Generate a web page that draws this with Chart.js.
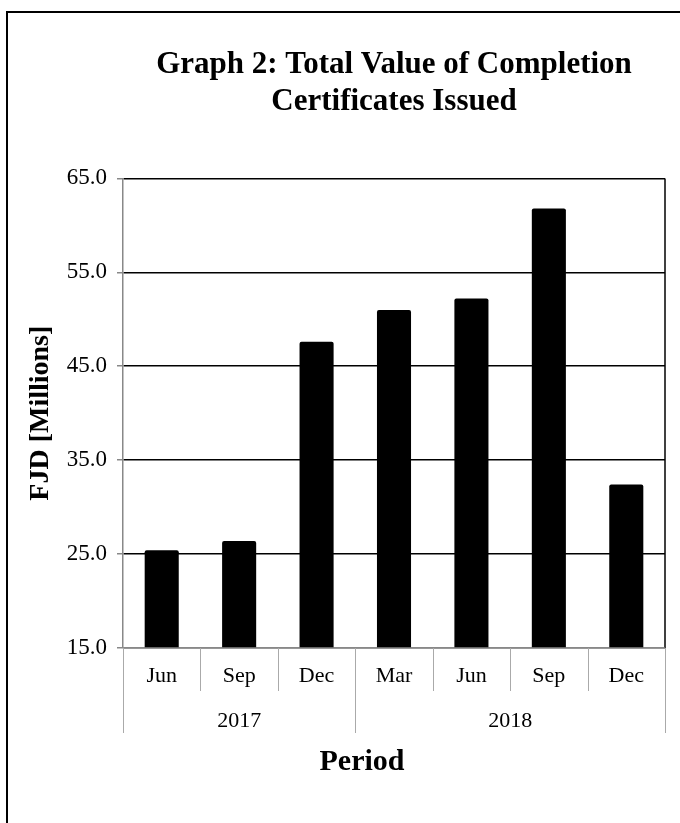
<!DOCTYPE html>
<html>
<head>
<meta charset="utf-8">
<title>Graph 2: Total Value of Completion Certificates Issued</title>
<script src="https://cdn.jsdelivr.net/npm/chart.js@4.4.0/dist/chart.umd.min.js"></script>
<style>
  html, body { margin: 0; padding: 0; background: #fff; }
  canvas { display: block; }
</style>
</head>
<body>
<canvas id="chart" width="680" height="823"></canvas>
<script>
const months = ["Jun", "Sep", "Dec", "Mar", "Jun", "Sep", "Dec"];
const years = ["2017", "2017", "2017", "2018", "2018", "2018", "2018"];
const values = [25.4, 26.4, 47.6, 51.0, 52.2, 61.8, 32.4];
const yMin = 15;
const yMax = 65;
const yStep = 10;

const serif = "'Liberation Serif', 'Times New Roman', serif";

// frame, right border and the two-level category axis
const periodAxis = {
  id: "periodAxis",
  beforeDraw: (chart) => {
    const ctx = chart.ctx;
    ctx.save();
    ctx.strokeStyle = "#000";
    ctx.lineWidth = 2;
    ctx.beginPath();
    ctx.moveTo(7, 830);
    ctx.lineTo(7, 12);
    ctx.lineTo(690, 12);
    ctx.stroke();
    ctx.restore();
  },
  afterDraw: (chart) => {
    const ctx = chart.ctx;
    const area = chart.chartArea;
    const x = chart.scales.x;
    const half = (x.getPixelForValue(1) - x.getPixelForValue(0)) / 2;
    ctx.save();

    ctx.strokeStyle = "#000";
    ctx.lineWidth = 1.5;
    ctx.beginPath();
    ctx.moveTo(area.right, area.top);
    ctx.lineTo(area.right, area.bottom);
    ctx.stroke();

    ctx.strokeStyle = "#888";
    ctx.lineWidth = 1.5;
    ctx.beginPath();
    ctx.moveTo(area.left, area.bottom);
    ctx.lineTo(area.right, area.bottom);
    ctx.stroke();

    ctx.lineWidth = 1;
    ctx.strokeStyle = "#aaa";
    for (let i = 0; i <= months.length; i += 1) {
      const px = Math.round(x.getPixelForValue(i) - half) + 0.5;
      const yearEdge = i === 0 || i === months.length || years[i] !== years[i - 1];
      ctx.beginPath();
      ctx.moveTo(px, area.bottom);
      ctx.lineTo(px, area.bottom + (yearEdge ? 85 : 43));
      ctx.stroke();
    }

    ctx.fillStyle = "#000";
    ctx.textAlign = "center";
    ctx.textBaseline = "middle";
    ctx.font = `22px ${serif}`;
    months.forEach((m, i) => {
      ctx.fillText(m, x.getPixelForValue(i), area.bottom + 28);
    });

    let start = 0;
    for (let i = 1; i <= years.length; i += 1) {
      if (i === years.length || years[i] !== years[start]) {
        const cx = (x.getPixelForValue(start) + x.getPixelForValue(i - 1)) / 2;
        ctx.fillText(years[start], cx, area.bottom + 73);
        start = i;
      }
    }

    ctx.font = `bold 30px ${serif}`;
    ctx.fillText("Period", 362, 762);
    ctx.restore();
  },
};

new Chart(document.getElementById("chart"), {
  type: "bar",
  data: {
    labels: months,
    datasets: [
      {
        data: values,
        backgroundColor: "#000",
        borderRadius: 2,
        barPercentage: 0.44,
        categoryPercentage: 1,
      },
    ],
  },
  options: {
    responsive: false,
    animation: false,
    layout: { padding: { left: 24, top: 0, right: 15, bottom: 175 } },
    plugins: {
      legend: { display: false },
      tooltip: { enabled: false },
      title: {
        display: true,
        fullSize: false,
        text: ["Graph 2: Total Value of Completion", "Certificates Issued"],
        color: "#000",
        font: { family: serif, size: 31, weight: "bold", lineHeight: 1.2 },
        padding: { top: 46, bottom: 58 },
      },
    },
    scales: {
      x: { display: false },
      y: {
        min: yMin,
        max: yMax,
        afterFit: (scale) => {
          scale.width = 99;
        },
        ticks: {
          stepSize: yStep,
          padding: 10,
          color: "#000",
          font: { family: serif, size: 23 },
          callback: (v) => Number(v).toFixed(1),
        },
        grid: {
          color: (c) => (c.tick && c.tick.value === yMin ? "#888" : "#000"),
          tickColor: "#888",
          tickLength: 6,
          lineWidth: 1.5,
        },
        border: { color: "#888", width: 1.5 },
        title: {
          display: true,
          text: "FJD [Millions]",
          color: "#000",
          padding: 0,
          font: { family: serif, size: 28, weight: "bold", lineHeight: 1.2 },
        },
      },
    },
  },
  plugins: [periodAxis],
});
</script>
</body>
</html>
